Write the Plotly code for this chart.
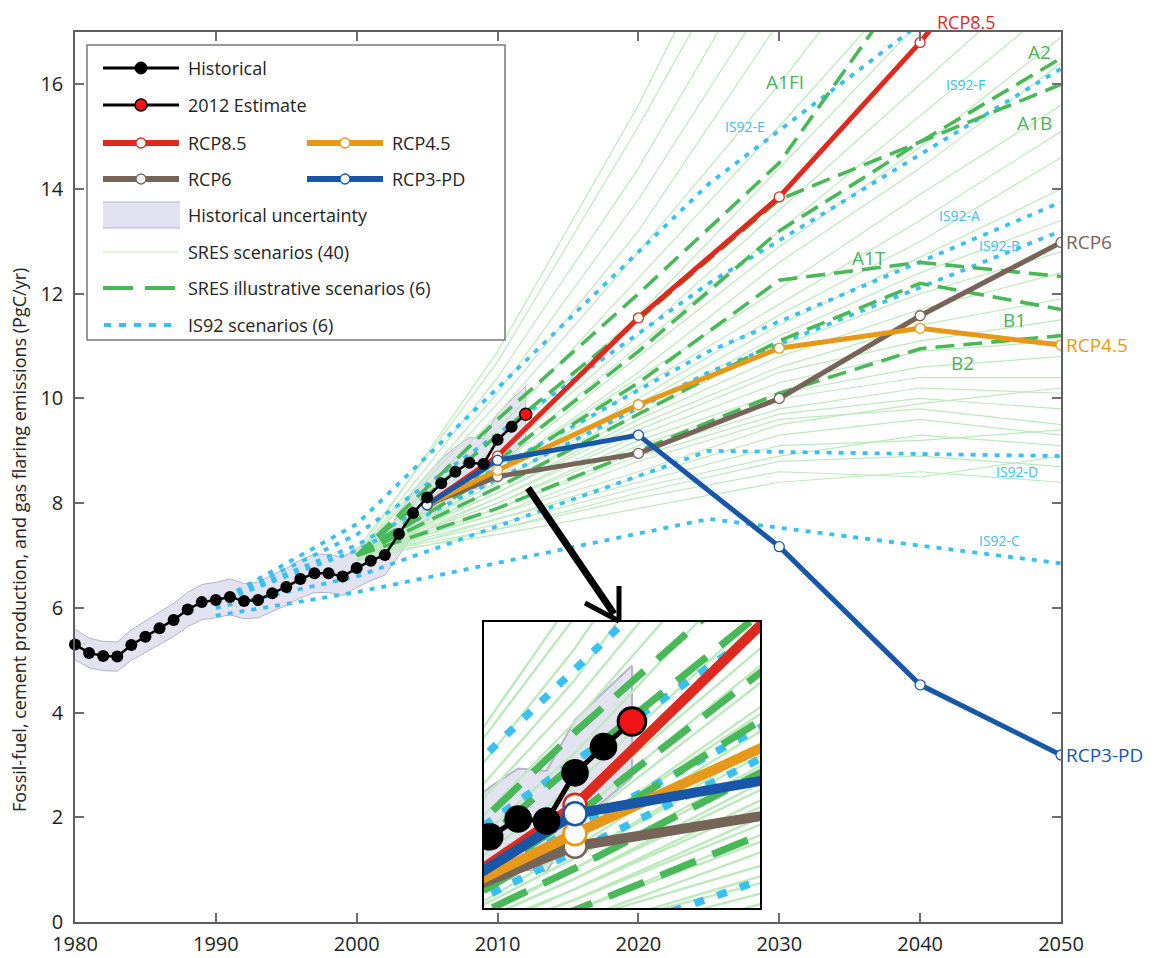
import plotly.graph_objects as go

# ---------------- data ----------------
hist_years = list(range(1980, 2013))
hist_vals = [5.30, 5.14, 5.08, 5.07, 5.29, 5.45, 5.61, 5.77, 5.97, 6.11, 6.15, 6.21, 6.13,
             6.15, 6.28, 6.40, 6.55, 6.66, 6.66, 6.60, 6.76, 6.90, 7.01, 7.41, 7.81, 8.11,
             8.38, 8.60, 8.77, 8.75, 9.21, 9.46, 9.70]
hist_unc_frac = 0.055

rcp_years = [2005, 2010, 2020, 2030, 2040, 2050]
rcp85 = [7.97, 8.90, 11.54, 13.85, 16.80, 20.20]
rcp6 = [7.97, 8.51, 8.95, 10.00, 11.58, 12.98]
rcp45 = [7.97, 8.63, 9.88, 10.96, 11.34, 11.02]
rcp3pd = [7.97, 8.82, 9.30, 7.17, 4.53, 3.19]

sres_years = [2000, 2010, 2020, 2030, 2040, 2050]
sres_A1FI = [7.0, 9.6, 12.0, 14.5, 18.3, 22.0]
sres_A1B = [7.0, 9.3, 11.5, 13.8, 14.9, 16.0]
sres_A2 = [7.0, 8.8, 10.9, 13.2, 14.9, 16.5]
sres_A1T = [7.0, 8.6, 10.3, 12.26, 12.6, 12.33]
sres_B1 = [7.0, 8.3, 9.7, 11.1, 12.2, 11.7]
sres_B2 = [7.0, 7.9, 9.0, 10.1, 10.95, 11.2]

sres_thin = [
    [7.0, 10.9, 15.6, 21.0, 26.0, 30.0],
    [7.1, 10.7, 15.2, 20.0, 24.5, 28.0],
    [7.0, 10.4, 14.4, 19.0, 23.0, 27.0],
    [7.0, 10.1, 13.8, 18.0, 22.0, 25.0],
    [7.0, 9.9, 13.2, 17.2, 21.0, 24.0],
    [6.9, 9.7, 12.8, 16.0, 19.5, 23.0],
    [7.0, 9.4, 12.3, 15.2, 18.2, 21.0],
    [7.0, 9.1, 11.6, 14.4, 17.2, 19.8],
    [6.9, 8.9, 11.2, 13.6, 16.0, 18.4],
    [7.0, 8.8, 11.0, 13.2, 15.4, 17.6],
    [7.0, 8.7, 10.8, 12.9, 14.8, 16.9],
    [7.0, 8.6, 10.5, 12.6, 14.4, 16.4],
    [7.0, 8.6, 10.4, 12.1, 13.9, 15.6],
    [6.9, 8.5, 10.2, 11.8, 13.4, 15.1],
    [7.0, 8.4, 10.0, 11.6, 13.0, 14.6],
    [7.0, 8.4, 9.9, 11.4, 12.7, 14.0],
    [7.0, 8.3, 9.8, 11.2, 12.4, 13.4],
    [6.9, 8.3, 9.7, 11.0, 12.0, 12.8],
    [7.0, 8.2, 9.6, 10.8, 11.7, 12.4],
    [7.0, 8.2, 9.5, 10.6, 11.4, 11.9],
    [7.0, 8.1, 9.4, 10.5, 11.1, 11.5],
    [6.9, 8.1, 9.3, 10.3, 10.9, 11.1],
    [7.0, 8.0, 9.2, 10.1, 10.6, 10.8],
    [7.0, 8.0, 9.1, 10.0, 10.4, 10.4],
    [7.0, 7.9, 9.0, 9.8, 10.2, 10.1],
    [6.9, 7.9, 8.9, 9.7, 10.0, 9.8],
    [7.0, 7.8, 8.8, 9.6, 9.8, 9.5],
    [7.0, 7.8, 8.6, 9.5, 9.9, 10.2],
    [7.0, 7.7, 8.5, 9.3, 9.6, 9.3],
    [6.9, 7.7, 8.4, 9.1, 9.2, 9.4],
    [7.0, 7.6, 8.3, 8.9, 9.3, 9.1],
    [7.0, 7.5, 8.2, 8.8, 8.9, 8.7],
    [6.9, 7.5, 8.1, 8.6, 8.5, 8.9],
    [7.0, 7.4, 7.9, 8.4, 8.6, 8.4],
]

is92_years = [1990, 2000, 2025, 2050]
is92_A = [6.1, 7.2, 10.9, 13.75]
is92_B = [6.1, 7.1, 10.5, 13.2]
is92_C = [5.85, 6.3, 7.7, 6.85]
is92_D = [6.0, 6.6, 9.0, 8.9]
is92_E = [6.1, 7.6, 14.1, 19.2]
is92_F = [6.1, 7.4, 12.2, 16.3]

sres_labels = ["A1FI", "A2", "A1B", "A1T", "B1", "B2"]
sres_label_pos = [(2030.4, 16.05), (2048.5, 16.62), (2048.1, 15.26),
                  (2036.4, 12.68), (2046.7, 11.5), (2043.0, 10.68)]
is92_labels = ["IS92-F", "IS92-E", "IS92-A", "IS92-B", "IS92-D", "IS92-C"]
is92_label_pos = [(2043.2, 16.0), (2027.6, 15.19), (2042.8, 13.5),
                  (2045.6, 12.93), (2046.9, 8.6), (2045.6, 7.28)]

# ---------------- styles ----------------
C_RED = "rgb(222,42,30)"
C_ORANGE = "rgb(230,152,25)"
C_BROWN = "rgb(118,100,88)"
C_BLUE = "rgb(24,87,168)"
C_THIN = "rgb(188,234,188)"
C_DASH = "rgb(72,184,88)"
C_DOT = "rgb(58,192,240)"
C_BAND = "rgb(226,226,240)"
C_BANDLINE = "rgb(180,180,200)"
FONT = "Open Sans"

fig = go.Figure()


def add_all(xa, ya, s, ms, clip):
    # historical uncertainty band
    up = [v * (1 + hist_unc_frac) for v in hist_vals]
    lo = [v * (1 - hist_unc_frac) for v in hist_vals]
    fig.add_trace(go.Scatter(x=hist_years + hist_years[::-1], y=up + lo[::-1],
                             fill="toself", fillcolor=C_BAND, mode="lines",
                             line=dict(color=C_BANDLINE, width=1 * s),
                             xaxis=xa, yaxis=ya, showlegend=False, hoverinfo="skip"))
    # SRES thin
    for run in sres_thin:
        fig.add_trace(go.Scatter(x=sres_years, y=run, mode="lines",
                                 line=dict(color=C_THIN, width=1.2 * s),
                                 xaxis=xa, yaxis=ya, showlegend=False))
    # IS92 dotted
    for run in [is92_A, is92_B, is92_C, is92_D, is92_E, is92_F]:
        fig.add_trace(go.Scatter(x=is92_years, y=run, mode="lines",
                                 line=dict(color=C_DOT, width=3.8 * s,
                                           dash="%dpx,%dpx" % (5 * s, 7 * s)),
                                 xaxis=xa, yaxis=ya, showlegend=False))
    # SRES illustrative dashed
    for run in [sres_A1FI, sres_A1B, sres_A2, sres_A1T, sres_B1, sres_B2]:
        fig.add_trace(go.Scatter(x=sres_years, y=run, mode="lines",
                                 line=dict(color=C_DASH, width=3.6 * s,
                                           dash="%dpx,%dpx" % (19 * s, 9 * s)),
                                 xaxis=xa, yaxis=ya, showlegend=False))
    # RCPs
    for run, col in [(rcp6, C_BROWN), (rcp45, C_ORANGE), (rcp85, C_RED), (rcp3pd, C_BLUE)]:
        fig.add_trace(go.Scatter(x=rcp_years, y=run, mode="lines+markers",
                                 line=dict(color=col, width=5 * s),
                                 marker=dict(size=10 * ms, color="white",
                                             line=dict(color=col, width=1.3 * s)),
                                 xaxis=xa, yaxis=ya, showlegend=False))
    # historical
    fig.add_trace(go.Scatter(x=hist_years, y=hist_vals, mode="lines",
                             line=dict(color="black", width=2.5 * s),
                             xaxis=xa, yaxis=ya, showlegend=False))
    fig.add_trace(go.Scatter(x=hist_years[:-1], y=hist_vals[:-1], mode="markers",
                             marker=dict(size=12 * ms, color="black"), cliponaxis=clip,
                             xaxis=xa, yaxis=ya, showlegend=False))
    fig.add_trace(go.Scatter(x=hist_years[-1:], y=hist_vals[-1:], mode="markers",
                             marker=dict(size=12 * ms, color="rgb(240,20,20)",
                                         line=dict(color="black", width=1.5 * s)),
                             cliponaxis=clip, xaxis=xa, yaxis=ya, showlegend=False))


add_all("x", "y", 1, 1, False)
add_all("x2", "y2", 2, 2.3, True)

# ---------------- pixel helpers for decorations (page pixels) ----------------
# The page body has an 8px default margin, so the figure is drawn 8px in from the corner.
OFF = 8
L, R, T, B = 75, 1061, 32, 922
FIG_W, FIG_H = 1169 - OFF, 958 - OFF


def PX(x):
    return (x - L) / (R - L)


def PY(y):
    return (B - y) / (B - T)


shapes = []
annots = []

# inset white background (drawn in the inset subplot, below its traces)
INX = [2006.8, 2016.5]
INY = [7.92, 10.65]
shapes.append(dict(type="rect", xref="x2", yref="y2", x0=INX[0], x1=INX[1],
                   y0=INY[0], y1=INY[1], fillcolor="white", line=dict(width=0),
                   layer="below"))

# arrow
shapes.append(dict(type="line", xref="paper", yref="paper", x0=PX(528), y0=PY(488),
                   x1=PX(614), y1=PY(614), line=dict(color="black", width=7), layer="above"))
shapes.append(dict(type="line", xref="paper", yref="paper", x0=PX(585), y0=PY(603),
                   x1=PX(619), y1=PY(621), line=dict(color="black", width=5), layer="above"))
shapes.append(dict(type="line", xref="paper", yref="paper", x0=PX(619), y0=PY(586),
                   x1=PX(619), y1=PY(621), line=dict(color="black", width=5), layer="above"))

# legend box
shapes.append(dict(type="rect", xref="paper", yref="paper", x0=PX(87), x1=PX(505),
                   y0=PY(340), y1=PY(45), fillcolor="white",
                   line=dict(color="rgb(120,120,120)", width=1.5), layer="above"))


def leg_line(x0, x1, y, col, w, dash=None):
    d = dict(type="line", xref="paper", yref="paper", x0=PX(x0), x1=PX(x1), y0=PY(y), y1=PY(y),
             line=dict(color=col, width=w), layer="above")
    if dash:
        d["line"]["dash"] = dash
    shapes.append(d)


def leg_circle(cx, cy, r, fill, edge, w):
    shapes.append(dict(type="circle", xref="paper", yref="paper",
                       x0=PX(cx - r), x1=PX(cx + r), y0=PY(cy + r), y1=PY(cy - r),
                       fillcolor=fill, line=dict(color=edge, width=w), layer="above"))


def leg_text(x, y, t):
    annots.append(dict(xref="paper", yref="paper", x=PX(x), y=PY(y), text=t, showarrow=False,
                       xanchor="left", yanchor="middle",
                       font=dict(family=FONT, size=18, color="rgb(35,35,35)")))


rows = [68, 105, 143, 179, 215, 252, 288, 325]
leg_line(103, 179, rows[0], "black", 3)
leg_circle(141, rows[0], 6, "black", "black", 1)
leg_text(186, rows[0], "Historical")
leg_line(103, 179, rows[1], "black", 3)
leg_circle(141, rows[1], 6, "rgb(240,20,20)", "black", 1.5)
leg_text(186, rows[1], "2012 Estimate")
for (x0, row, col, name) in [(103, rows[2], C_RED, "RCP8.5"), (307, rows[2], C_ORANGE, "RCP4.5"),
                             (103, rows[3], C_BROWN, "RCP6"), (307, rows[3], C_BLUE, "RCP3-PD")]:
    leg_line(x0, x0 + 76, row, col, 6)
    leg_circle(x0 + 38, row, 5, "white", col, 1.3)
    leg_text(x0 + 83, row, name)
shapes.append(dict(type="rect", xref="paper", yref="paper", x0=PX(103), x1=PX(180),
                   y0=PY(228), y1=PY(202), fillcolor=C_BAND, line=dict(width=0), layer="above"))
leg_line(103, 180, 202, C_BANDLINE, 1)
leg_line(103, 180, 228, C_BANDLINE, 1)
leg_text(186, rows[4], "Historical uncertainty")
leg_line(103, 179, rows[5], C_THIN, 1.2)
leg_text(186, rows[5], "SRES scenarios (40)")
leg_line(103, 133, rows[6], C_DASH, 4)
leg_line(145, 175, rows[6], C_DASH, 4)
leg_text(186, rows[6], "SRES illustrative scenarios (6)")
leg_line(104, 176, rows[7], C_DOT, 4, dash="7px,8px")
leg_text(186, rows[7], "IS92 scenarios (6)")

# scenario labels
for t, (x, y) in zip(sres_labels, sres_label_pos):
    annots.append(dict(x=x, y=y, xref="x", yref="y", text=t, showarrow=False,
                       font=dict(family=FONT, size=19, color="rgb(78,176,90)")))
for t, (x, y) in zip(is92_labels, is92_label_pos):
    annots.append(dict(x=x, y=y, xref="x", yref="y", text=t, showarrow=False,
                       font=dict(family=FONT, size=14, color=C_DOT)))

# RCP end labels
annots.append(dict(x=2043.3, y=PY(22), xref="x", yref="paper", text="RCP8.5", showarrow=False,
                   xanchor="center", yanchor="middle",
                   font=dict(family=FONT, size=18, color=C_RED)))
for run, col, name in [(rcp6, C_BROWN, "RCP6"), (rcp45, C_ORANGE, "RCP4.5"),
                       (rcp3pd, C_BLUE, "RCP3-PD")]:
    annots.append(dict(x=rcp_years[-1], y=run[-1], xref="x", yref="y", text=name,
                       showarrow=False, xanchor="left", xshift=3,
                       font=dict(family=FONT, size=19, color=col)))

# y axis title
annots.append(dict(xref="paper", yref="paper", x=PX(19), y=PY(540), textangle=-90,
                   xanchor="center", yanchor="middle",
                   text="Fossil-fuel, cement production, and gas flaring emissions (PgC/yr)",
                   showarrow=False, font=dict(family=FONT, size=18, color="rgb(35,35,35)")))

axis_common = dict(showgrid=False, zeroline=False, showline=True, linecolor="rgb(95,95,95)",
                   linewidth=1.5, mirror="ticks", ticks="inside", ticklen=9,
                   tickcolor="rgb(110,110,110)", tickwidth=1.5,
                   tickfont=dict(family=FONT, size=20, color="rgb(30,30,30)"))

fig.update_layout(
    width=FIG_W, height=FIG_H,
    margin=dict(l=L - OFF, r=1169 - R, t=T - OFF, b=958 - B, autoexpand=False),
    paper_bgcolor="white", plot_bgcolor="white",
    showlegend=False,
    xaxis=dict(range=[1980, 2050], tickvals=[1980, 1990, 2000, 2010, 2020, 2030, 2040, 2050],
               domain=[0, 1], ticklabelstandoff=3, **axis_common),
    yaxis=dict(range=[0, 17], tickvals=[0, 2, 4, 6, 8, 10, 12, 14, 16], domain=[0, 1],
               ticklabelstandoff=6, **axis_common),
    xaxis2=dict(range=INX, domain=[PX(484), PX(760)], anchor="y2", showgrid=False,
                zeroline=False, showticklabels=False, ticks="", showline=True,
                linecolor="black", linewidth=2, mirror=True),
    yaxis2=dict(range=INY, domain=[PY(908), PY(622)], anchor="x2", showgrid=False,
                zeroline=False, showticklabels=False, ticks="", showline=True,
                linecolor="black", linewidth=2, mirror=True),
    shapes=shapes,
    annotations=annots,
    font=dict(family=FONT),
)

fig.write_html("out.html")
